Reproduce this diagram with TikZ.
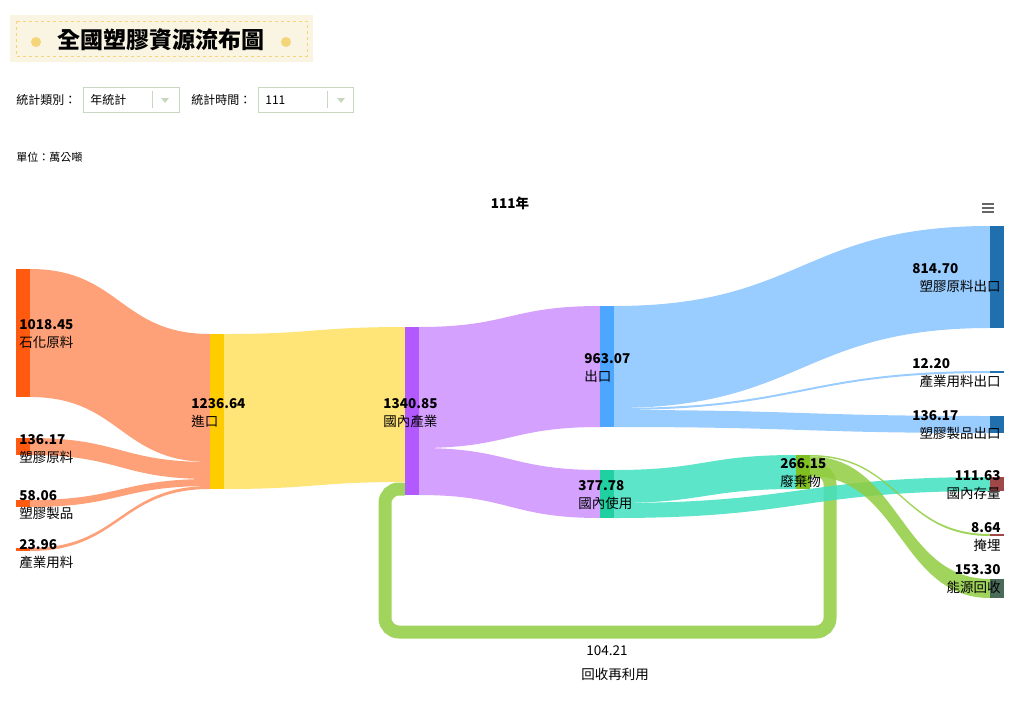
\documentclass[tikz,border=0pt]{standalone}
\usepackage{fontspec}
\setmainfont{Noto Sans CJK TC}
\usepackage[dvipsnames]{xcolor}
\definecolor{petro}{HTML}{FF5A10}
\definecolor{petrolink}{HTML}{FF9060}
\definecolor{importbar}{HTML}{FFCC00}
\definecolor{importlink}{HTML}{FFE060}
\definecolor{indbar}{HTML}{B25AFF}
\definecolor{indlink}{HTML}{CC90FF}
\definecolor{expbar}{HTML}{4DA6FF}
\definecolor{explink}{HTML}{88C4FF}
\definecolor{usebar}{HTML}{20D0A0}
\definecolor{uselink}{HTML}{40E0C0}
\definecolor{wastebar}{HTML}{80C020}
\definecolor{wastelink}{HTML}{90CC40}
\definecolor{darkblue}{HTML}{2070B0}
\definecolor{stockred}{HTML}{A04848}
\definecolor{energy}{HTML}{4A6A5A}
\definecolor{titlebg}{HTML}{FAF5E3}
\definecolor{titledot}{HTML}{F5D57A}
\definecolor{boxline}{HTML}{C8D8C0}
\newcommand{\band}[7]{\fill[#1,opacity=0.85] (#2,#3) .. controls ({(#2+#5)/2},#3) and ({(#2+#5)/2},#6) .. (#5,#6) -- (#5,#7) .. controls ({(#2+#5)/2},#7) and ({(#2+#5)/2},#4) .. (#2,#4) -- cycle;}

\begin{document}
\begin{tikzpicture}[x=1pt,y=-1pt,thick,
  bar/.style={draw=none,inner sep=0pt,minimum width=14pt},
  num/.style={font=\bfseries\fontsize{13.5}{14}\selectfont,inner sep=0pt},
  lab/.style={font=\fontsize{13.5}{14}\selectfont,inner sep=0pt},
  small/.style={font=\fontsize{12}{13}\selectfont,inner sep=0pt,anchor=west}]
\useasboundingbox (0,0) rectangle (1019,707);

% header
\fill[titlebg] (10,15) rectangle (313,62);
\draw[titledot,dashed,thin] (16,21) rectangle (307,56);
\fill[titledot] (36,42) circle (5);
\fill[titledot] (286,42) circle (5);
\node[font=\bfseries\fontsize{23}{25}\selectfont] (title) at (161,40) {全國塑膠資源流布圖};
\node[small] (kind) at (16,100) {統計類別：};
\draw[boxline,thin] (83,87) rectangle (179,112);
\draw[boxline,thin] (152,91) -- (152,108);
\fill[boxline] (161,98) -- (169,98) -- (165,103) -- cycle;
\node[small] (kindval) at (90,100) {年統計};
\node[small] (time) at (191,100) {統計時間：};
\draw[boxline,thin] (258,87) rectangle (353,112);
\draw[boxline,thin] (327,91) -- (327,108);
\fill[boxline] (337,98) -- (345,98) -- (341,103) -- cycle;
\node[small] (timeval) at (265,100) {111};
\node[small,font=\fontsize{11}{12}\selectfont] (unit) at (16,157) {單位：萬公噸};
\node[font=\bfseries\fontsize{13.5}{14}\selectfont] (year) at (510,203) {111年};
\foreach \y in {204,208,212} \draw[gray!80!black,line width=1.6pt] (982,\y) -- (994,\y);

% recycle loop
\draw[wastelink,opacity=0.85,line width=13pt,rounded corners=14pt]
  (810,470) -- (830,470) -- (830,632) -- (385,632) -- (385,489) -- (405,489);

% bands
\band{petrolink}{30}{269}{397}{210}{334}{462}
\band{petrolink}{30}{438}{455}{210}{462}{479}
\band{petrolink}{30}{500}{507}{210}{479}{486}
\band{petrolink}{30}{548}{551}{210}{486}{489}
\band{importlink}{224}{334}{489}{405}{327}{482}
\band{indlink}{419}{327}{448}{600}{306}{427}
\band{indlink}{419}{448}{495}{600}{470}{518}
\band{explink}{614}{306}{408}{990}{226}{328}
\band{explink}{614}{408}{410}{990}{371}{373}
\band{explink}{614}{410}{427}{990}{416}{433}
\band{uselink}{614}{470}{503}{796}{455}{489}
\band{uselink}{614}{503}{518}{990}{477}{491}
\band{wastelink}{810}{455}{456.5}{990}{534}{536}
\band{wastelink}{810}{456.5}{476}{990}{579}{598}

% bars
\node[bar,fill=petro,minimum height=128pt] (shihua) at (23,333) {};
\node[bar,fill=petro,minimum height=17pt] (raw) at (23,446.5) {};
\node[bar,fill=petro,minimum height=7pt] (prod) at (23,503.5) {};
\node[bar,fill=petro,minimum height=3pt] (mat) at (23,549.5) {};
\node[bar,fill=importbar,minimum height=155pt] (import) at (217,411.5) {};
\node[bar,fill=indbar,minimum height=168pt] (industry) at (412,411) {};
\node[bar,fill=expbar,minimum height=121pt] (export) at (607,366.5) {};
\node[bar,fill=usebar,minimum height=48pt] (use) at (607,494) {};
\node[bar,fill=wastebar,minimum height=34pt] (waste) at (803,472) {};
\node[bar,fill=darkblue,minimum height=102pt] (rawexp) at (997,277) {};
\node[bar,fill=darkblue,minimum height=2pt] (matexp) at (997,372) {};
\node[bar,fill=darkblue,minimum height=17pt] (prodexp) at (997,424.5) {};
\node[bar,fill=stockred,minimum height=14pt] (stock) at (997,484) {};
\node[bar,fill=stockred,minimum height=2pt] (landfill) at (997,535) {};
\node[bar,fill=energy,minimum height=19pt] (energyrec) at (997,588.5) {};

% labels
\node[num,anchor=west] at (19,325) {1018.45};
\node[lab,anchor=west] at (19,342) {石化原料};
\node[num,anchor=west] at (19,440) {136.17};
\node[lab,anchor=west] at (19,457) {塑膠原料};
\node[num,anchor=west] at (19,496) {58.06};
\node[lab,anchor=west] at (19,513) {塑膠製品};
\node[num,anchor=west] at (19,545) {23.96};
\node[lab,anchor=west] at (19,562) {產業用料};
\node[num,anchor=west] at (191,404) {1236.64};
\node[lab,anchor=west] at (191,421) {進口};
\node[num,anchor=west] at (383,404) {1340.85};
\node[lab,anchor=west] at (383,421) {國內產業};
\node[num,anchor=west] at (584,359) {963.07};
\node[lab,anchor=west] at (584,376) {出口};
\node[num,anchor=west] at (578,486) {377.78};
\node[lab,anchor=west] at (578,503) {國內使用};
\node[num,anchor=west] at (780,464) {266.15};
\node[lab,anchor=west] at (780,481) {廢棄物};
\node[num,anchor=west] at (912,269) {814.70};
\node[lab,anchor=east] at (1001,286) {塑膠原料出口};
\node[num,anchor=west] at (912,364) {12.20};
\node[lab,anchor=east] at (1001,381) {產業用料出口};
\node[num,anchor=west] at (912,416) {136.17};
\node[lab,anchor=east] at (1001,433) {塑膠製品出口};
\node[num,anchor=east] at (1001,476) {111.63};
\node[lab,anchor=east] at (1001,493) {國內存量};
\node[num,anchor=east] at (1001,528) {8.64};
\node[lab,anchor=east] at (1001,545) {掩埋};
\node[num,anchor=east] at (1001,570) {153.30};
\node[lab,anchor=east] at (1001,587) {能源回收};
\node[lab] (loopnum) at (607,651) {104.21};
\node[lab] (looplab) at (615,674) {回收再利用};
\end{tikzpicture}
\end{document}
